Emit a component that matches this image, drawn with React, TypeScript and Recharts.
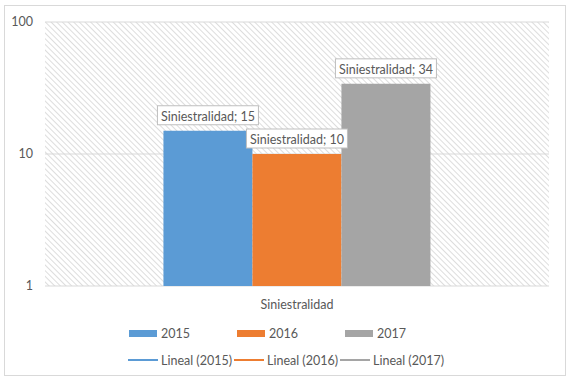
import { BarChart, Bar, XAxis, YAxis, CartesianGrid, Legend, LabelList } from 'recharts'

const categories = ['Siniestralidad']
const years = ['2015', '2016', '2017']
const values2015 = [15]
const values2016 = [10]
const values2017 = [34]
const yTicks = [1, 10, 100]
const trendLabels = ['Lineal (2015)', 'Lineal (2016)', 'Lineal (2017)']

const colors = ['#5B9BD5', '#ED7D31', '#A5A5A5']
const FONT = 'Lato, "Liberation Sans", sans-serif'
const TEXT = '#595959'

const data = categories.map((name, i) => ({
  name,
  '2015': values2015[i],
  '2016': values2016[i],
  '2017': values2017[i],
}))

function ValueLabel(props: any) {
  const { x, y, width, value } = props
  const cx = x + width / 2
  const bw = 101
  const bh = 19
  const top = y - 6 - bh
  return (
    <g>
      <rect x={cx - bw / 2} y={top} width={bw} height={bh} fill="#fff" stroke="#bfbfbf" />
      <text
        x={cx}
        y={top + bh / 2 + 1}
        textAnchor="middle"
        dominantBaseline="central"
        fill={TEXT}
        fontSize={12.5}
        fontFamily={FONT}
      >
        {`Siniestralidad; ${value}`}
      </text>
    </g>
  )
}

function LegendBox() {
  return (
    <div style={{ fontFamily: FONT, fontSize: 12.5, color: TEXT }}>
      <div style={{ display: 'flex', paddingLeft: 129, height: 22, alignItems: 'center' }}>
        {years.map((y, i) => (
          <div key={y} style={{ width: 108, display: 'flex', alignItems: 'center' }}>
            <span style={{ width: 28, height: 7, background: colors[i], marginRight: 4 }} />
            <span>{y}</span>
          </div>
        ))}
      </div>
      <div style={{ display: 'flex', paddingLeft: 128, height: 24, alignItems: 'center', marginTop: 4 }}>
        {trendLabels.map((t, i) => (
          <div key={t} style={{ width: 106, display: 'flex', alignItems: 'center' }}>
            <span style={{ width: 30, height: 2, background: colors[i], marginRight: 3 }} />
            <span>{t}</span>
          </div>
        ))}
      </div>
    </div>
  )
}

export default function App() {
  return (
    <div style={{ position: 'absolute', left: 0, top: 0, width: 570, height: 381, background: '#fff' }}>
      <svg width={0} height={0} style={{ position: 'absolute' }}>
        <defs>
          <pattern id="hatch" width={4} height={4} patternUnits="userSpaceOnUse" patternTransform="rotate(-45)">
            <rect width={4} height={4} fill="#fff" />
            <line x1={0} y1={0} x2={0} y2={4} stroke="#c6c6c6" strokeWidth={1.2} />
          </pattern>
        </defs>
      </svg>
      <div
        style={{
          position: 'absolute', left: 4, top: 5, width: 562, height: 371,
          border: '1px solid #d9d9d9', boxSizing: 'border-box',
        }}
      />
      <BarChart
        width={570}
        height={381}
        data={data}
        margin={{ top: 22, right: 21, left: 0, bottom: 65 }}
        barCategoryGap="23.5%"
        barGap={0}
        style={{ position: 'absolute', left: 0, top: 0 }}
      >
        <CartesianGrid vertical={false} stroke="#d9d9d9" fill="url(#hatch)" fillOpacity={1} />
        <XAxis
          dataKey="name"
          axisLine={false}
          tickLine={false}
          height={30}
          tickMargin={8}
          tick={{ fill: TEXT, fontSize: 12.5, fontFamily: FONT }}
        />
        <YAxis
          scale="log"
          domain={[1, 100]}
          ticks={yTicks}
          allowDataOverflow
          axisLine={false}
          tickLine={false}
          width={45}
          tickMargin={6}
          tick={{ fill: TEXT, fontSize: 12.5, fontFamily: FONT }}
        />
        <Legend
          layout="vertical"
          align="center"
          verticalAlign="middle"
          wrapperStyle={{ position: 'absolute', top: 322, left: 0, width: 570, height: 50 }}
          content={() => <LegendBox />}
        />
        {years.map((y, i) => (
          <Bar key={y} dataKey={y} fill={colors[i]} isAnimationActive={false}>
            <LabelList dataKey={y} content={<ValueLabel />} />
          </Bar>
        ))}
      </BarChart>
    </div>
  )
}
